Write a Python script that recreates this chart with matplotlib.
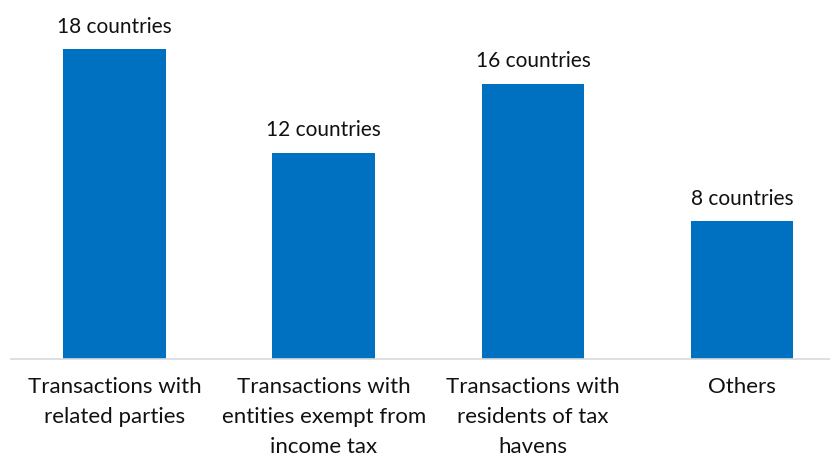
import matplotlib
matplotlib.use('Agg')
import matplotlib.pyplot as plt

categories = [
    "Transactions with\nrelated parties",
    "Transactions with\nentities exempt from\nincome tax",
    "Transactions with\nresidents of tax\nhavens",
    "Others",
]
countries = [18, 12, 16, 8]
value_labels = [f"{n} countries" for n in countries]

plt.rcParams['font.family'] = ['Lato', 'DejaVu Sans']

fig = plt.figure(figsize=(8.3, 4.59), dpi=100)
ax = fig.add_axes([11 / 830, 100 / 459, 819 / 830, 359 / 459])

x = range(len(categories))
bars = ax.bar(x, countries, width=0.49, color='#0070C0')

for b, lab in zip(bars, value_labels):
    ax.annotate(lab, (b.get_x() + b.get_width() / 2, b.get_height()),
                xytext=(0, 9), textcoords='offset points',
                ha='center', va='bottom', fontsize=15, color='#111111')

ax.set_xlim(-0.495, 3.42)
ax.set_ylim(0, 20.87)
ax.set_xticks(list(x))
ax.set_xticklabels(categories, fontsize=16, linespacing=1.62, color='#111111')
ax.tick_params(axis='x', length=0, pad=13)
ax.set_yticks([])

for side in ['top', 'right', 'left']:
    ax.spines[side].set_visible(False)
ax.spines['bottom'].set_color('#D9D9D9')
ax.spines['bottom'].set_linewidth(1.2)

fig.savefig('out.png', dpi=100)
